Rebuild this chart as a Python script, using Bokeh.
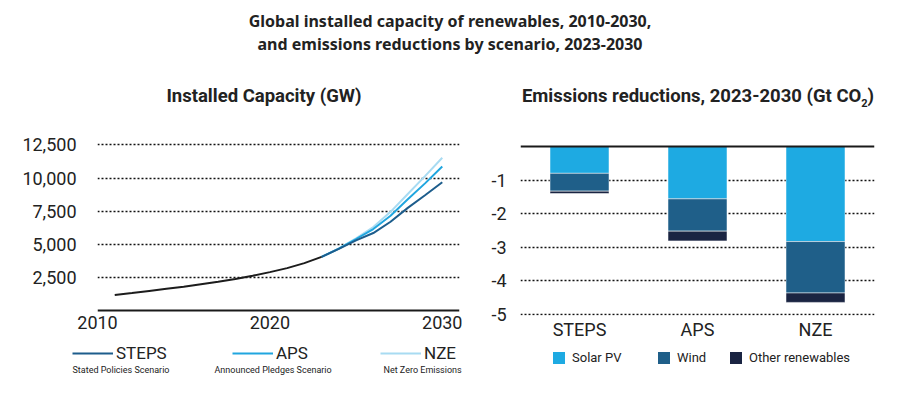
from bokeh.plotting import figure
from bokeh.layouts import column, row
from bokeh.models import (Div, Range1d, FactorRange, FixedTicker, NumeralTickFormatter,
                          Legend, LegendItem, Label, Span, ColumnDataSource)
from bokeh.embed import file_html
from bokeh.resources import INLINE

# ---------------- data ----------------
hist_years = [2011, 2012, 2013, 2014, 2015, 2016, 2017, 2018, 2019, 2020, 2021, 2022, 2023]
hist_gw = [1170, 1320, 1480, 1640, 1800, 1990, 2180, 2380, 2620, 2900, 3200, 3580, 4050]

scen_years = [2023, 2024, 2025, 2026, 2027, 2028, 2029, 2030]
steps_gw = [4050, 4650, 5300, 5850, 6700, 7750, 8700, 9690]
aps_gw = [4050, 4680, 5400, 6150, 7150, 8400, 9600, 10870]
nze_gw = [4050, 4700, 5450, 6300, 7450, 8800, 10150, 11530]

cap_ticks = [2500, 5000, 7500, 10000, 12500]
year_ticks = [2010, 2020, 2030]

scenarios = ["STEPS", "APS", "NZE"]
scenario_names = ["Stated Policies Scenario", "Announced Pledges Scenario", "Net Zero Emissions"]
solar_pv = [-0.80, -1.56, -2.83]
wind = [-0.53, -0.96, -1.53]
other_ren = [-0.07, -0.29, -0.28]
red_ticks = [-5, -4, -3, -2, -1]
red_tick_labels = ["-5", "-4", "-3", "-2", "-1"]
source_names = ["Solar PV", "Wind", "Other renewables"]

C_HIST = "#1c1c1c"
C_STEPS = "#1d5d8c"
C_APS = "#20a6df"
C_NZE = "#a8dbf2"
C_SOLAR = "#1eaae2"
C_WIND = "#1f5f89"
C_OTHER = "#1a2442"
TXT = "#222222"
FONT = "Roboto"
NAN = float("nan")

# ---------------- header (titles) ----------------
header = Div(text=(
    '<div style="position:relative;width:900px;height:110px;color:#222;">'
    '<div style="position:absolute;left:0;top:10px;width:900px;text-align:center;'
    'font-family:\'Noto Sans\';font-weight:bold;font-size:16px;line-height:23px;">'
    'Global installed capacity of renewables, 2010-2030,<br>'
    'and emissions reductions by scenario, 2023-2030</div>'
    '<div style="position:absolute;left:64px;top:84px;width:400px;text-align:center;'
    'font-family:Roboto;font-weight:bold;font-size:18.5px;line-height:24px;">'
    'Installed Capacity (GW)</div>'
    '<div style="position:absolute;left:498px;top:84px;width:400px;text-align:center;'
    'font-family:Roboto;font-weight:bold;font-size:18.5px;line-height:24px;">'
    'Emissions reductions, 2023-2030 (Gt CO<sub style="font-size:11px;">2</sub>)</div>'
    '</div>'), width=900, height=110, margin=(0, 0, 0, 0))

FIG_H = 232
B_TOP = 27
B_BOT = 26


def style_grid_axes(p, ticks, standoff_y):
    p.outline_line_color = None
    p.xgrid.visible = False
    p.ygrid.ticker = FixedTicker(ticks=ticks)
    p.ygrid.grid_line_color = "#111111"
    p.ygrid.grid_line_dash = "2 2"
    p.ygrid.grid_line_width = 1.6
    p.yaxis.ticker = FixedTicker(ticks=ticks)
    for ax in (p.xaxis[0], p.yaxis[0]):
        ax.axis_line_color = None
        ax.major_tick_line_color = None
        ax.minor_tick_line_color = None
        ax.major_tick_out = 0
        ax.major_label_text_font = FONT
        ax.major_label_text_font_size = "18px"
        ax.major_label_text_color = TXT
    p.yaxis.major_label_standoff = standoff_y


# ---------------- left chart ----------------
p1 = figure(width=470, height=FIG_H, output_backend="svg", toolbar_location=None,
            x_range=Range1d(2010, 2031), y_range=Range1d(-375, 13063),
            min_border_left=97, min_border_right=11, min_border_top=B_TOP, min_border_bottom=B_BOT)
style_grid_axes(p1, cap_ticks, 21)
p1.yaxis.formatter = NumeralTickFormatter(format="0,0")
p1.xaxis.ticker = FixedTicker(ticks=year_ticks)
p1.xaxis.major_label_standoff = 0
p1.add_layout(Span(location=0, dimension="width", line_color="#1a1a1a", line_width=2))

p1.line(scen_years, nze_gw, line_color=C_NZE, line_width=2)
p1.line(scen_years, aps_gw, line_color=C_APS, line_width=2)
p1.line(scen_years, steps_gw, line_color=C_STEPS, line_width=2)
p1.line(hist_years, hist_gw, line_color=C_HIST, line_width=2)

# ---------------- right chart ----------------
src = ColumnDataSource(dict(scenario=scenarios, solar=solar_pv, wind=wind, other=other_ren))
p2 = figure(width=430, height=FIG_H, output_backend="svg", toolbar_location=None,
            x_range=FactorRange(*scenarios), y_range=Range1d(-5.03, 0.266),
            min_border_left=50, min_border_right=26, min_border_top=B_TOP, min_border_bottom=B_BOT)
style_grid_axes(p2, red_ticks, 14)
p2.yaxis.major_label_overrides = dict(zip(red_ticks, red_tick_labels))
p2.xaxis.major_label_standoff = 3

p2.vbar_stack(["solar", "wind", "other"], x="scenario", width=0.5, source=src,
              color=[C_SOLAR, C_WIND, C_OTHER], line_color="white", line_width=0.5)
p2.add_layout(Span(location=0, dimension="width", line_color="#1a1a1a", line_width=2))

# ---------------- legend strip ----------------
LG_H = 56
lg = figure(width=900, height=LG_H, output_backend="svg", toolbar_location=None,
            x_range=Range1d(0, 900), y_range=Range1d(0, LG_H),
            min_border_left=0, min_border_right=0, min_border_top=0, min_border_bottom=0)
lg.axis.visible = False
lg.grid.visible = False
lg.outline_line_color = None

# legend keys: placeholder renderers (no visible data) styled like the series
line_keys = [lg.line([NAN], [NAN], line_color=c, line_width=2) for c in (C_STEPS, C_APS, C_NZE)]
line_leg_x = [72, 232, 380]
sub_x = [72, 214, 383]
for rend, name, sub, lx, sx in zip(line_keys, scenarios, scenario_names, line_leg_x, sub_x):
    leg = Legend(items=[LegendItem(label=name, renderers=[rend])], location=(lx, 34),
                 orientation="horizontal", glyph_width=41, glyph_height=22, label_height=22,
                 label_standoff=3, padding=0, margin=0, spacing=0,
                 label_text_font=FONT, label_text_font_size="17px", label_text_color=TXT,
                 border_line_color=None, background_fill_alpha=0)
    lg.add_layout(leg, "center")
    lg.add_layout(Label(x=sx, y=28.5, x_units="screen", y_units="screen", text=sub,
                        text_font=FONT, text_font_size="9px", text_color=TXT,
                        text_baseline="middle", text_align="left"))

bar_keys = [lg.vbar(x=[NAN], top=[NAN], width=1, fill_color=c, line_color=None)
            for c in (C_SOLAR, C_WIND, C_OTHER)]
bar_leg_x = [551, 656, 728]
for rend, name, lx in zip(bar_keys, source_names, bar_leg_x):
    leg = Legend(items=[LegendItem(label=name, renderers=[rend])], location=(lx, 33),
                 orientation="horizontal", glyph_width=15, glyph_height=15, label_height=15,
                 label_standoff=6, padding=0, margin=0, spacing=0,
                 label_text_font=FONT, label_text_font_size="13px", label_text_color=TXT,
                 border_line_color=None, background_fill_alpha=0)
    lg.add_layout(leg, "center")

layout = column(header, row(p1, p2), lg)
open("out.html", "w").write(file_html(layout, INLINE))
